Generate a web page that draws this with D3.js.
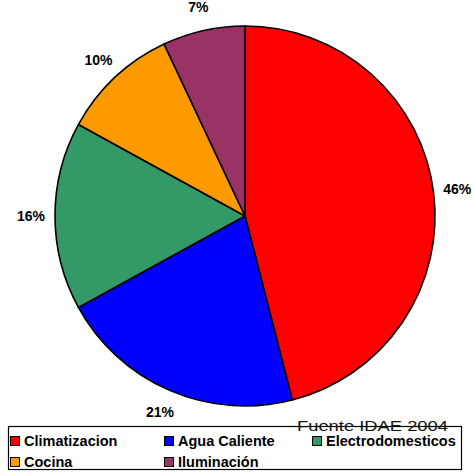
<!DOCTYPE html>
<html>
<head>
<meta charset="utf-8">
<script src="https://cdn.jsdelivr.net/npm/d3@7"></script>
<style>
  html, body { margin: 0; padding: 0; background: #fff; }
  svg { display: block; font-family: "Liberation Sans", Arial, sans-serif; }
</style>
</head>
<body>
<svg id="chart" width="474" height="474"></svg>
<script>
// Consumo energético doméstico por uso final (%)
const categories = ["Climatizacion", "Agua Caliente", "Electrodomesticos", "Cocina", "Iluminación"];
const values = [46, 21, 16, 10, 7];
const colors = ["#FF0000", "#0000FF", "#339966", "#FF9900", "#993366"];
const sourceNote = "Fuente IDAE 2004";

const svg = d3.select("#chart");
const cx = 245, cy = 216, radius = 190, labelRadius = 214;

const pie = d3.pie().sort(null).value(d => d.value);
const slices = pie(categories.map((c, i) => ({ name: c, value: values[i], color: colors[i] })));

const arc = d3.arc().innerRadius(0).outerRadius(radius);
const labelArc = d3.arc().innerRadius(labelRadius).outerRadius(labelRadius);

const g = svg.append("g").attr("transform", `translate(${cx},${cy})`);

g.selectAll("path.slice")
  .data(slices)
  .join("path")
  .attr("class", "slice")
  .attr("d", arc)
  .attr("fill", d => d.data.color)
  .attr("stroke", "#000")
  .attr("stroke-width", 1.6)
  .attr("stroke-linejoin", "round");

g.selectAll("text.pct")
  .data(slices)
  .join("text")
  .attr("class", "pct")
  .attr("transform", d => `translate(${labelArc.centroid(d)})`)
  .attr("text-anchor", "middle")
  .attr("dominant-baseline", "central")
  .attr("font-size", 14)
  .attr("font-weight", "bold")
  .attr("fill", "#000")
  .text(d => d.data.value + "%");

// Leyenda
const legend = svg.append("g");
legend.append("rect")
  .attr("x", 8.5).attr("y", 426.5)
  .attr("width", 453).attr("height", 43)
  .attr("fill", "#fff")
  .attr("stroke", "#000")
  .attr("stroke-width", 1.2);

const colX = [10, 164, 312];
const rowY = [441, 462];
const items = legend.selectAll("g.item")
  .data(categories.map((c, i) => ({ name: c, color: colors[i], i })))
  .join("g")
  .attr("class", "item")
  .attr("transform", d => `translate(${colX[d.i % 3]},${rowY[Math.floor(d.i / 3)]})`);

items.append("rect")
  .attr("x", 0.5).attr("y", -4.5)
  .attr("width", 9).attr("height", 9)
  .attr("fill", d => d.color)
  .attr("stroke", "#000")
  .attr("stroke-width", 1);

items.append("text")
  .attr("x", 14)
  .attr("y", 0)
  .attr("dominant-baseline", "central")
  .attr("font-size", 14.5)
  .attr("font-weight", "bold")
  .attr("fill", "#000")
  .text(d => d.name);

// Nota de fuente
svg.append("text")
  .attr("x", 297)
  .attr("y", 431)
  .attr("font-size", 15)
  .attr("textLength", 151)
  .attr("lengthAdjust", "spacingAndGlyphs")
  .attr("fill", "#111")
  .text(sourceNote);
</script>
</body>
</html>
